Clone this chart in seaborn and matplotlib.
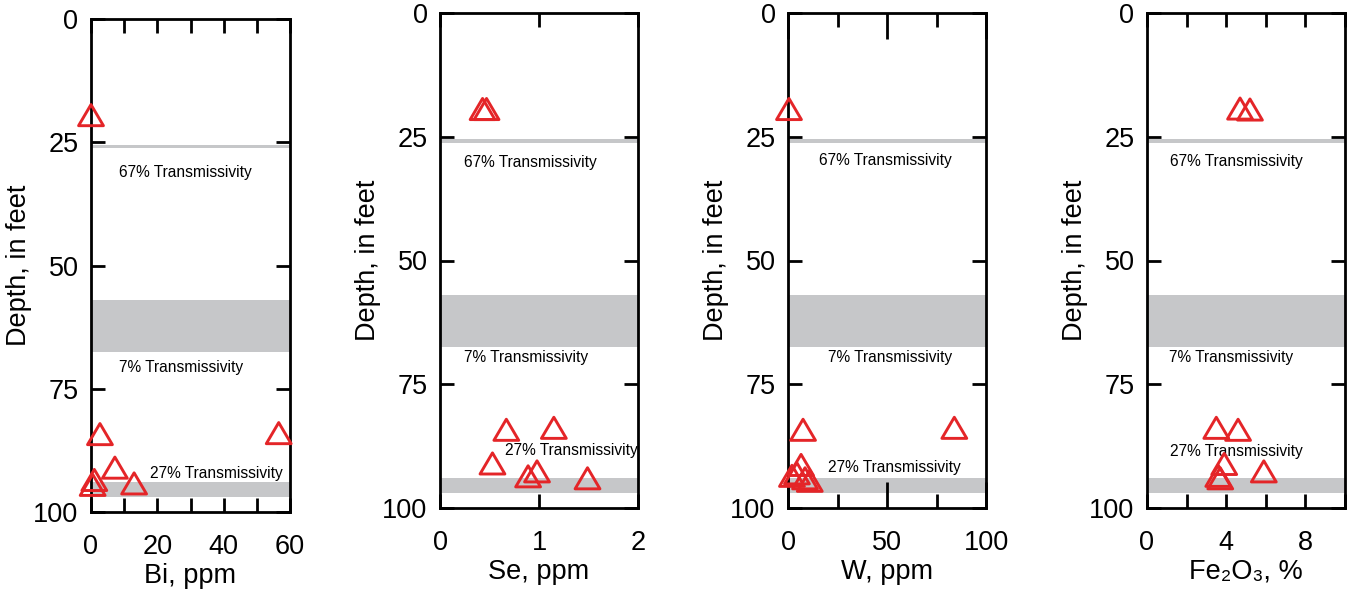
import numpy as np
import pandas as pd
import seaborn as sns
import matplotlib.pyplot as plt
from matplotlib.path import Path
from matplotlib.ticker import MultipleLocator

# Values (depth in feet)
bi_ppm = [0, 2.7, 56.6, 7.2, 1.0, 0.5, 13]
bi_depth = [19.5, 84.2, 84.0, 91.0, 93.5, 94.5, 94.2]

se_ppm = [0.43, 0.47, 0.67, 1.15, 0.53, 0.98, 0.89, 1.49]
se_depth = [19.4, 19.4, 84.2, 83.8, 91.0, 92.6, 93.6, 94.0]

w_ppm = [0.5, 7.6, 84, 6.6, 4.5, 8.6, 11, 2]
w_depth = [19.4, 84.2, 83.8, 91.3, 93.0, 94.0, 94.5, 93.5]

fe2o3_pct = [4.7, 5.2, 3.5, 4.6, 3.9, 5.9, 3.6, 3.7]
fe2o3_depth = [19.3, 19.5, 83.8, 84.2, 91.1, 92.6, 93.5, 94.0]

# transmissivity zones (top, bottom depth)
zone_tops = [25.5, 57.0, 94.0]
zone_bottoms = [26.2, 67.5, 97.0]
zone_labels = ["67% Transmissivity", "7% Transmissivity", "27% Transmissivity"]

panels = [
    dict(x=bi_ppm, y=bi_depth, xlabel="Bi, ppm", xlim=(0, 60), major=20, minor=10,
         pos=(91, 290, 19, 512),
         text=[(8.4, 31.2), (8.4, 70.6), (17.8, 92.1)]),
    dict(x=se_ppm, y=se_depth, xlabel="Se, ppm", xlim=(0, 2), major=1, minor=1,
         pos=(440, 638, 13, 508),
         text=[(0.24, 30.3), (0.24, 69.5), (0.66, 88.3)]),
    dict(x=w_ppm, y=w_depth, xlabel="W, ppm", xlim=(0, 100), major=50, minor=25,
         pos=(788, 986, 13, 508),
         text=[(15.7, 29.7), (20.2, 69.5), (20.2, 91.9)]),
    dict(x=fe2o3_pct, y=fe2o3_depth, xlabel="Fe\u2082O\u2083, %", xlim=(0, 10), major=4, minor=2,
         pos=(1147, 1345, 13, 508),
         text=[(1.16, 30.1), (1.1, 69.5), (1.16, 88.5)]),
]

sns.set_style("ticks")
plt.rcParams['font.family'] = ['Liberation Sans', 'DejaVu Sans']
plt.rcParams['text.color'] = 'black'
plt.rcParams['axes.labelcolor'] = 'black'
plt.rcParams['xtick.color'] = 'black'
plt.rcParams['ytick.color'] = 'black'

W, H = 1353, 590
fig = plt.figure(figsize=(W / 100, H / 100), dpi=100)

red = "#e42528"
gray = "#c6c7c9"
tri = Path([(-1, -0.85), (1, -0.85), (0, 0.85), (-1, -0.85)], closed=True)

for p in panels:
    l, r, t, b = p["pos"]
    ax = fig.add_axes([l / W, 1 - b / H, (r - l) / W, (b - t) / H])

    for top, bot in zip(zone_tops, zone_bottoms):
        ax.axhspan(top, bot, color=gray, lw=0, zorder=0)
    for (tx, ty), lab in zip(p["text"], zone_labels):
        ax.text(tx, ty, lab, fontsize=11.2, ha="left", va="center", zorder=1)

    df = pd.DataFrame({"value": p["x"], "depth": p["y"]})
    sns.scatterplot(data=df, x="value", y="depth", ax=ax, marker=tri, s=320,
                    color=red, facecolor="none", edgecolor=red, linewidth=2.1,
                    clip_on=False, zorder=3)

    ax.set_xlim(*p["xlim"])
    ax.set_ylim(100, 0)
    ax.xaxis.set_major_locator(MultipleLocator(p["major"]))
    ax.xaxis.set_minor_locator(MultipleLocator(p["minor"]))
    ax.yaxis.set_major_locator(MultipleLocator(25))
    ax.yaxis.set_minor_locator(MultipleLocator(25))

    ax.tick_params(axis="both", which="both", direction="in", top=True, right=True,
                   width=2, length=10, labelsize=19.5, color="black")
    ax.tick_params(axis="x", which="major", pad=16)
    ax.tick_params(axis="y", which="major", pad=9)
    if p["xlabel"] == "W, ppm":
        ax.tick_params(axis="x", which="major", length=19)
    for sp in ax.spines.values():
        sp.set_linewidth(2)
        sp.set_color("black")

    ax.set_xlabel(p["xlabel"], fontsize=19.5, labelpad=2)
    ax.set_ylabel("Depth, in feet", fontsize=19.5, labelpad=1)

fig.savefig("out.png", dpi=100)
